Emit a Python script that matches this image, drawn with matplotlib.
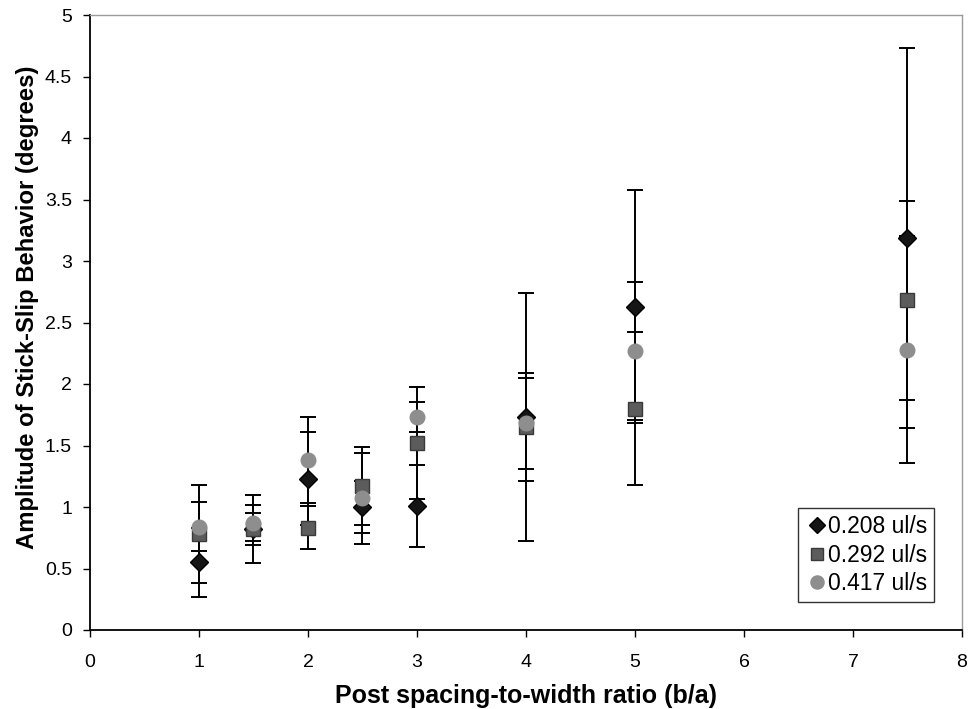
import matplotlib
matplotlib.use("Agg")
import matplotlib.pyplot as plt
from matplotlib.lines import Line2D

plt.rcParams["font.family"] = ["Liberation Sans", "DejaVu Sans"]

# spacing-to-width ratios shared by all three flow rates
ratios = [1, 1.5, 2, 2.5, 3, 4, 5, 7.5]

amp_208 = [0.55, 0.82, 1.23, 1.00, 1.01, 1.73, 2.63, 3.19]
err_208 = [0.28, 0.13, 0.38, 0.21, 0.335, 1.01, 0.95, 1.545]

amp_292 = [0.78, 0.82, 0.83, 1.17, 1.52, 1.65, 1.80, 2.68]
err_292 = [0.40, 0.275, 0.175, 0.32, 0.455, 0.44, 0.625, 0.81]

amp_417 = [0.84, 0.87, 1.38, 1.07, 1.73, 1.68, 2.27, 2.28]
err_417 = [0.20, 0.145, 0.35, 0.37, 0.12, 0.37, 0.56, 0.92]

labels = ["0.208 ul/s", "0.292 ul/s", "0.417 ul/s"]

fig = plt.figure(figsize=(9.70, 7.09), dpi=100)
ax = fig.add_axes([90 / 970, 79 / 709, 872 / 970, 615 / 709])

series = [
    (amp_208, err_208, "D", "#151515", "#000000", 9.0),
    (amp_292, err_292, "s", "#5c5c5c", "#3a3a3a", 10.0),
    (amp_417, err_417, "o", "#8e8e8e", "#8e8e8e", 10.5),
]
handles = []
for (vals, errs, mk, fc, ec, ms), lab in zip(series, labels):
    ax.errorbar(ratios, vals, yerr=errs, fmt=mk, color="black", ecolor="black",
                elinewidth=1.4, capsize=5.5, capthick=1.4,
                markerfacecolor=fc, markeredgecolor=ec, markersize=ms)
    handles.append(Line2D([], [], linestyle="none", marker=mk, markersize=ms * 0.9,
                          markerfacecolor=fc, markeredgecolor=ec, label=lab))

ax.set_xlim(0, 8)
ax.set_ylim(0, 5)
ax.set_xticks(range(0, 9))
ax.set_yticks([0, 0.5, 1, 1.5, 2, 2.5, 3, 3.5, 4, 4.5, 5])
ax.set_yticklabels(["0", "0.5", "1", "1.5", "2", "2.5", "3", "3.5", "4", "4.5", "5"])
ax.tick_params(axis="both", direction="out", length=5, width=1, labelsize=14, colors="black")
ax.tick_params(axis="x", pad=12)
ax.tick_params(axis="y", pad=8)

for side in ["top", "right"]:
    ax.spines[side].set_color("#9a9a9a")
    ax.spines[side].set_linewidth(1.0)
for side in ["left", "bottom"]:
    ax.spines[side].set_color("black")
    ax.spines[side].set_linewidth(1.3)

ax.set_xlabel("Post spacing-to-width ratio (b/a)", fontsize=18, fontweight="bold")
ax.xaxis.set_label_coords(0.5, -0.088)
ax.set_ylabel("Amplitude of Stick-Slip Behavior (degrees)", fontsize=17.2, fontweight="bold")
ax.yaxis.set_label_coords(-0.058, 0.525)

leg = ax.legend(handles=handles, loc="lower right", bbox_to_anchor=(0.968, 0.045), fontsize=16.5,
                frameon=True, fancybox=False, edgecolor="black", handletextpad=0.0,
                handlelength=1.0, borderpad=0.3, labelspacing=0.25, borderaxespad=0.0)
leg.get_frame().set_linewidth(1.0)

fig.savefig("out.png", dpi=100)
